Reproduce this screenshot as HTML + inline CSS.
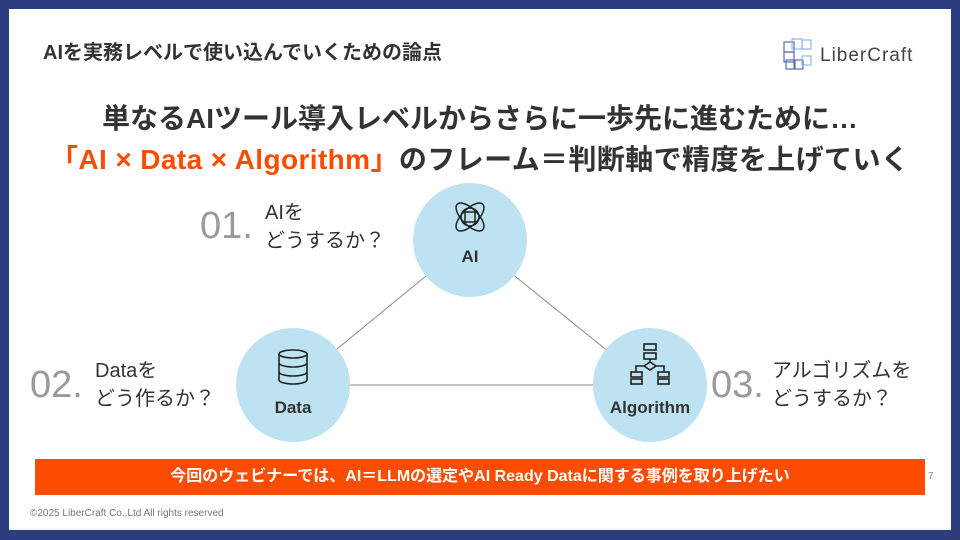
<!DOCTYPE html>
<html><head><meta charset="utf-8"><style>
body{margin:0;width:960px;height:540px;background:#2c3e80;position:relative;overflow:hidden;font-family:"Liberation Sans","Noto Sans CJK JP",sans-serif;}
.page{position:absolute;left:9px;top:9px;width:942px;height:521px;background:#fff;}
.a{position:absolute;white-space:nowrap;}
.num{font-size:38px;color:#9a9a9a;font-weight:300;letter-spacing:0px;}
.q{font-size:20px;color:#333;line-height:28px;}
.c{position:absolute;width:114px;height:114px;border-radius:50%;background:#bde3f3;}
.cl{position:absolute;width:100%;text-align:center;font-weight:bold;font-size:17px;color:#333;}
</style></head><body>
<div class="page"></div>
<div class="a" style="left:43px;top:36px;font-size:20px;font-weight:bold;color:#333;">AIを実務レベルで使い込んでいくための論点</div>
<svg class="a" style="left:780px;top:36px" width="150" height="36">
<g fill="none" stroke="#5a6cb0" stroke-width="1.2"><rect x="4" y="6" width="10" height="10"/><rect x="12" y="3" width="10" height="10" stroke="#8fb8e8"/><rect x="22" y="4" width="9" height="9" stroke="#8fb8e8"/><rect x="4" y="16" width="10" height="10"/><rect x="6" y="24" width="9" height="9"/><rect x="14" y="24" width="9" height="9"/><rect x="22" y="20" width="9" height="9" stroke="#8fb8e8"/></g>
<text x="40" y="25" font-family="Liberation Sans" font-size="19" fill="#444" letter-spacing="1">LiberCraft</text></svg>
<div class="a" style="left:0;width:960px;text-align:center;top:97px;font-size:28px;font-weight:bold;color:#333;">単なるAIツール導入レベルからさらに一歩先に進むために…</div>
<div class="a" style="left:50px;top:138px;font-size:28px;font-weight:bold;color:#333;letter-spacing:0.4px;"><span style="color:#fc4c02">「AI × Data × Algorithm」</span>のフレーム＝判断軸で精度を上げていく</div>
<svg class="a" style="left:0;top:0" width="960" height="540"><g stroke="#888" stroke-width="1"><line x1="293" y1="385" x2="470" y2="240"/><line x1="470" y1="240" x2="650" y2="385"/><line x1="293" y1="385" x2="650" y2="385"/></g></svg>
<div class="c" style="left:413px;top:183px"><svg class="a" style="left:37px;top:14px" width="40" height="40" fill="none" stroke="#222" stroke-width="1.5"><ellipse cx="20" cy="20" rx="18" ry="8" transform="rotate(45 20 20)"/><ellipse cx="20" cy="20" rx="18" ry="8" transform="rotate(-45 20 20)"/><ellipse cx="20" cy="20" rx="9" ry="9"/><rect x="15" y="15" width="10" height="10"/></svg><div class="cl" style="top:64px">AI</div></div>
<div class="c" style="left:236px;top:328px"><svg class="a" style="left:39px;top:20px" width="36" height="40" fill="none" stroke="#222" stroke-width="1.6"><ellipse cx="18" cy="6" rx="14" ry="4"/><path d="M4 6V32c0 2 6 4 14 4s14-2 14-4V6M4 15c0 2 6 4 14 4s14-2 14-4M4 24c0 2 6 4 14 4s14-2 14-4"/></svg><div class="cl" style="top:70px">Data</div></div>
<div class="c" style="left:593px;top:328px"><svg class="a" style="left:36px;top:14px" width="42" height="44" fill="none" stroke="#222" stroke-width="1.6"><rect x="15" y="2" width="12" height="6"/><rect x="15" y="11" width="12" height="6"/><path d="M21 17v3M21 20l6 4-6 4-6-4zM15 24H7v6M27 24h8v6"/><rect x="2" y="30" width="11" height="5"/><rect x="2" y="37" width="11" height="5"/><rect x="29" y="30" width="11" height="5"/><rect x="29" y="37" width="11" height="5"/></svg><div class="cl" style="top:70px">Algorithm</div></div>
<div class="a num" style="left:200px;top:205px">01.</div>
<div class="a q" style="left:265px;top:199px">AIを<br>どうするか？</div>
<div class="a num" style="left:30px;top:364px">02.</div>
<div class="a q" style="left:95px;top:357px">Dataを<br>どう作るか？</div>
<div class="a num" style="left:711px;top:364px">03.</div>
<div class="a q" style="left:772px;top:357px">アルゴリズムを<br>どうするか？</div>
<div class="a" style="left:35px;top:459px;width:890px;height:36px;background:#fc4c02;color:#fff;font-weight:bold;font-size:16px;text-align:center;line-height:36px;">今回のウェビナーでは、AI＝LLMの選定やAI Ready Dataに関する事例を取り上げたい</div>
<div class="a" style="left:928px;top:471px;font-size:10px;color:#888">7</div>
<div class="a" style="left:30px;top:508px;font-size:10px;color:#777">©2025 LiberCraft Co.,Ltd All rights reserved</div>
</body></html>
